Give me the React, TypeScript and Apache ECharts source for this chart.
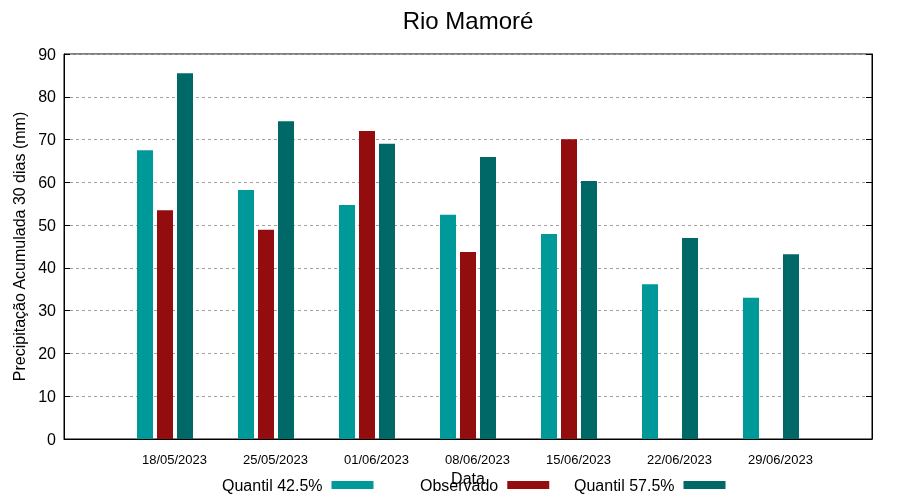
import React, { useEffect, useRef } from "react";
import * as echarts from "echarts";

const categories = ["", "18/05/2023", "25/05/2023", "01/06/2023", "08/06/2023", "15/06/2023", "22/06/2023", "29/06/2023", ""];
const quantil425 = [null, 67.5, 58.2, 54.7, 52.4, 47.9, 36.2, 33.0, null];
const observado = [null, 53.5, 48.9, 72.0, 43.7, 70.1, null, null, null];
const quantil575 = [null, 85.5, 74.3, 69.0, 65.9, 60.3, 47.0, 43.2, null];
const seriesNames = ["Quantil 42.5%", "Observado", "Quantil 57.5%"];
const colors = ["#009999", "#930d0f", "#006866"];

const FONT = "'Liberation Sans', Arial, sans-serif";

export default function App() {
  const ref = useRef<HTMLDivElement>(null);
  useEffect(() => {
    if (!ref.current) return;
    const chart = echarts.init(ref.current, undefined, { renderer: "svg" });
    const data = [quantil425, observado, quantil575];
    const legendLefts = [222, 420, 574];
    chart.setOption({
      animation: false,
      textStyle: { fontFamily: FONT },
      title: {
        text: "Rio Mamoré",
        left: 468,
        top: 8,
        padding: 0,
        textAlign: "center",
        textStyle: { fontFamily: FONT, fontSize: 24, fontWeight: "normal", color: "#000" },
      },
      legend: seriesNames.map((n, i) => ({
        data: [n],
        left: legendLefts[i],
        top: 477,
        align: "right",
        itemWidth: 42,
        itemHeight: 8,
        itemGap: 0,
        padding: 0,
        icon: "rect",
        textStyle: { fontFamily: FONT, fontSize: 16, color: "#000", padding: [0, 4, 0, 0] },
      })),
      grid: {
        left: 64,
        right: 28,
        top: 54,
        bottom: 61,
        show: true,
        borderColor: "#000",
        borderWidth: 1,
        containLabel: false,
        outerBoundsMode: "none",
      },
      xAxis: {
        type: "category",
        data: categories,
        boundaryGap: false,
        name: "Data",
        nameLocation: "middle",
        nameGap: 27,
        nameTextStyle: { fontFamily: FONT, fontSize: 16, color: "#000" },
        axisLine: { show: true, lineStyle: { color: "#000" } },
        axisTick: { show: false },
        axisLabel: {
          interval: 0,
          fontFamily: FONT,
          fontSize: 13,
          color: "#000",
          margin: 14,
          padding: [0, 0, 0, 19],
        },
        splitLine: { show: false },
      },
      yAxis: [
        {
          type: "value",
          min: 0,
          max: 90,
          interval: 10,
          name: "Precipitação Acumulada 30 dias (mm)",
          nameLocation: "middle",
          nameGap: 33,
          nameTextStyle: { fontFamily: FONT, fontSize: 16, color: "#000" },
          axisLine: { show: true, lineStyle: { color: "#000" } },
          axisTick: { show: true, inside: true, length: 6, lineStyle: { color: "#000" } },
          axisLabel: { fontFamily: FONT, fontSize: 16, color: "#000", margin: 8 },
          splitLine: { show: true, lineStyle: { color: "#a0a0a0", type: [3, 3], width: 1 } },
        },
        {
          type: "value",
          position: "right",
          min: 0,
          max: 90,
          interval: 10,
          axisLine: { show: true, lineStyle: { color: "#000" } },
          axisTick: { show: true, inside: true, length: 6, lineStyle: { color: "#000" } },
          axisLabel: { show: false },
          splitLine: { show: false },
        },
      ],
      series: seriesNames.map((n, i) => ({
        name: n,
        type: "bar",
        yAxisIndex: 0,
        data: data[i],
        barWidth: 16,
        barGap: "25%",
        itemStyle: { color: colors[i] },
      })),
    });
    return () => chart.dispose();
  }, []);
  return <div ref={ref} style={{ position: "fixed", left: 0, top: 0, width: 900, height: 500 }} />;
}
